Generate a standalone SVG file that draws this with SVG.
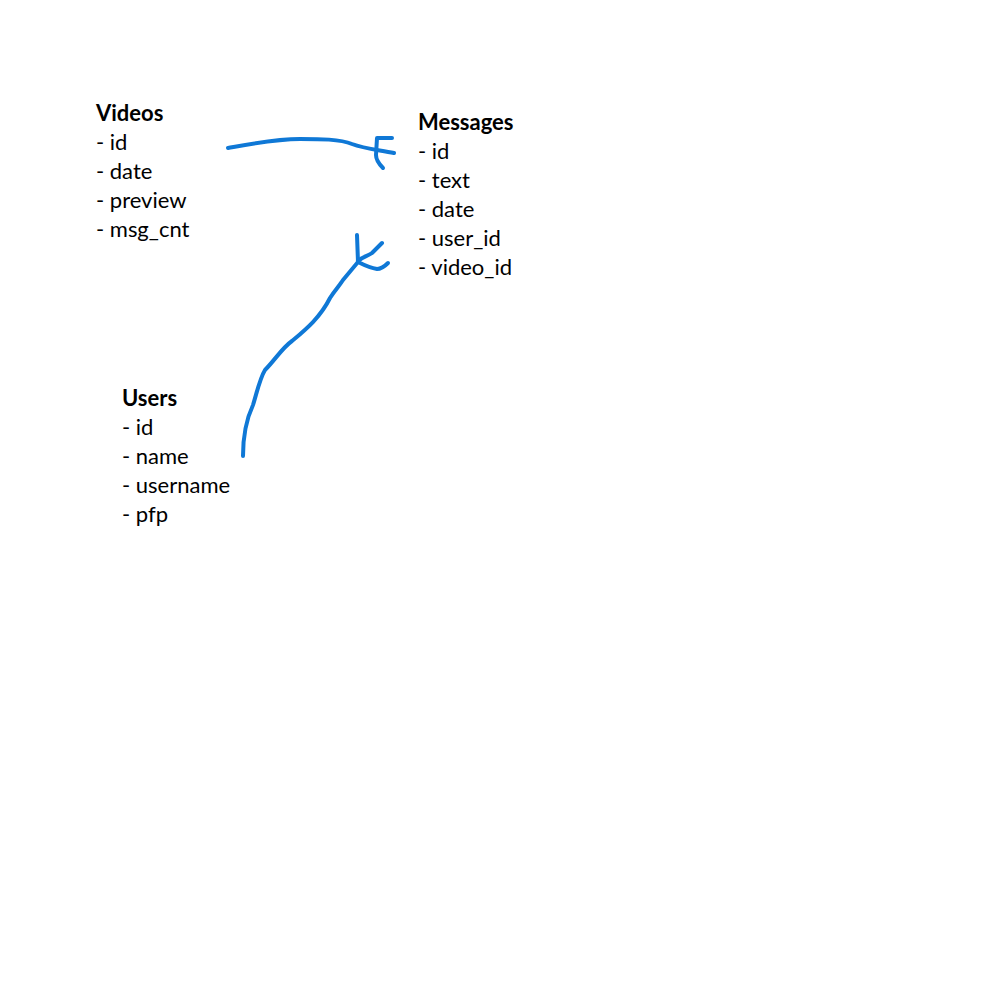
<svg xmlns="http://www.w3.org/2000/svg" width="1000" height="1000" viewBox="0 0 1000 1000">
<style>
text{font-family:"Lato","Liberation Sans",sans-serif;font-size:22px;fill:#000}
.t{font-weight:bold}
.c{fill:none;stroke:#0f78d6;stroke-width:4;stroke-linecap:round;stroke-linejoin:round}
</style>
<rect width="1000" height="1000" fill="#fff"/>
<g id="videos">
<text class="t" x="96" y="121">Videos</text>
<text x="96" y="150">- id</text>
<text x="96" y="179">- date</text>
<text x="96" y="208">- preview</text>
<text x="96" y="237">- msg_cnt</text>
</g>
<g id="messages">
<text class="t" x="418" y="130">Messages</text>
<text x="418" y="159">- id</text>
<text x="418" y="188">- text</text>
<text x="418" y="217">- date</text>
<text x="418" y="246">- user_id</text>
<text x="418" y="275">- video_id</text>
</g>
<g id="users">
<text class="t" x="122" y="406">Users</text>
<text x="122" y="435">- id</text>
<text x="122" y="464">- name</text>
<text x="122" y="493">- username</text>
<text x="122" y="522">- pfp</text>
</g>
<g id="connectors">
<path class="c" d="M228,148 C250,144 275,139 300,139 C320,139 340,139 352,144 C365,149 380,150 394,153"/>
<path class="c" d="M392,138 L377,138 L376,155 C376,160 379,164 383,168"/>
<path class="c" d="M243,456 C243,440 246,420 253,405 C257,392 260,378 265,370 C275,360 282,348 292,341 C305,330 320,318 330,298 C335,290 340,285 343,280 C348,274 353,268 358,262"/>
<path class="c" d="M357,235 L358,262"/>
<path class="c" d="M358,261 C362,257 368,256 372,253 L382,243"/>
<path class="c" d="M358,262 C364,265 370,268 377,269 C382,269 385,266 388,263"/>
</g>
</svg>
